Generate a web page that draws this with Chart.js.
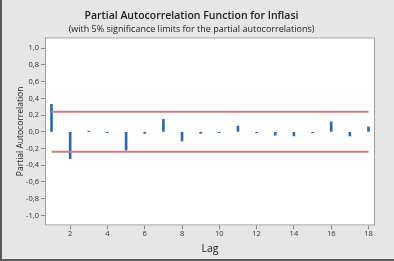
<!DOCTYPE html>
<html>
<head>
<meta charset="utf-8">
<script src="https://cdn.jsdelivr.net/npm/chart.js@4/dist/chart.umd.min.js"></script>
<style>
  html, body { margin: 0; padding: 0; background: #e6e6e6; }
  #wrap { width: 392px; height: 259px; border-left: 2px solid #5a5a5a; border-bottom: 2px solid #5a5a5a; }
</style>
</head>
<body>
<div id="wrap"><canvas id="chart" width="392" height="259"></canvas></div>
<script>
// PACF values per lag
let lags = [1, 2, 3, 4, 5, 6, 7, 8, 9, 10, 11, 12, 13, 14, 15, 16, 17, 18];
let pacf = [0.33, -0.32, 0.01, -0.01, -0.22, -0.02, 0.15, -0.11, -0.02, -0.01, 0.07, -0.01, -0.04, -0.05, -0.01, 0.12, -0.05, 0.06];
let sigLimit = 0.24;
let xTicks = [2, 4, 6, 8, 10, 12, 14, 16, 18];
let yTicks = [-1.0, -0.8, -0.6, -0.4, -0.2, 0.0, 0.2, 0.4, 0.6, 0.8, 1.0];

const fontFam = "'Open Sans', 'Noto Sans', sans-serif";

// white plot background + grey frame
const plotFrame = {
    id: 'plotFrame',
    beforeDatasetsDraw(chart) {
        let a = chart.chartArea, ctx = chart.ctx;
        ctx.save();
        ctx.fillStyle = '#ffffff';
        ctx.fillRect(a.left, a.top, a.right - a.left, a.bottom - a.top);
        ctx.restore();
    },
    afterDatasetsDraw(chart) {
        let a = chart.chartArea, ctx = chart.ctx;
        ctx.save();
        ctx.strokeStyle = '#a0a0a0';
        ctx.lineWidth = 1;
        ctx.strokeRect(a.left + 0.5, a.top + 0.5, a.right - a.left - 1, a.bottom - a.top - 1);
        ctx.restore();
    }
};

let fmt = v => v.toFixed(1).replace('.', ',');

new Chart(document.getElementById('chart'), {
    type: 'bar',
    data: {
        datasets: [
            {
                type: 'bar',
                data: lags.map((l, i) => ({x: l, y: pacf[i]})),
                backgroundColor: '#2f6aa8',
                barThickness: 2,
                order: 2
            },
            {
                type: 'line',
                data: [{x: lags[0], y: sigLimit}, {x: lags[lags.length - 1], y: sigLimit}],
                borderColor: '#cf7f7f',
                borderWidth: 2,
                pointRadius: 0,
                order: 1
            },
            {
                type: 'line',
                data: [{x: lags[0], y: -sigLimit}, {x: lags[lags.length - 1], y: -sigLimit}],
                borderColor: '#cf7f7f',
                borderWidth: 2,
                pointRadius: 0,
                order: 1
            }
        ]
    },
    options: {
        responsive: false,
        animation: false,
        layout: { padding: { left: 6, right: 19, top: 0, bottom: 4 } },
        plugins: {
            legend: { display: false },
            tooltip: { enabled: false },
            title: {
                display: true,
                text: 'Partial Autocorrelation Function for Inflasi',
                color: '#222',
                font: { family: fontFam, size: 10.5, weight: '600' },
                padding: { top: 10, bottom: 1 }
            },
            subtitle: {
                display: true,
                text: '(with 5% significance limits for the partial autocorrelations)',
                color: '#222',
                font: { family: fontFam, size: 9 },
                padding: { top: 0, bottom: 3 }
            }
        },
        scales: {
            x: {
                type: 'linear',
                offset: false,
                min: 0.65,
                max: 18.35,
                afterBuildTicks: s => { s.ticks = xTicks.map(v => ({value: v})); },
                ticks: { color: '#333', font: { family: fontFam, size: 7.5 }, padding: 0, maxRotation: 0, callback: v => v },
                grid: { offset: false, drawOnChartArea: false, drawTicks: true, tickLength: 4, color: '#888' },
                border: { display: false },
                title: { display: true, text: 'Lag', color: '#222', font: { family: fontFam, size: 10.5 }, padding: { top: 4, bottom: 0 } }
            },
            y: {
                min: -1.12,
                max: 1.13,
                afterBuildTicks: s => { s.ticks = yTicks.map(v => ({value: v})); },
                afterFit: s => { s.width = 37; },
                ticks: { color: '#333', font: { family: fontFam, size: 7.5 }, padding: 2, callback: v => fmt(v) },
                grid: { drawOnChartArea: false, drawTicks: true, tickLength: 4, color: '#888' },
                border: { display: false },
                title: { display: true, text: 'Partial Autocorrelation', color: '#222', font: { family: fontFam, size: 8.5 }, padding: { top: 7, bottom: 0 } }
            }
        }
    },
    plugins: [plotFrame]
});
</script>
</body>
</html>
